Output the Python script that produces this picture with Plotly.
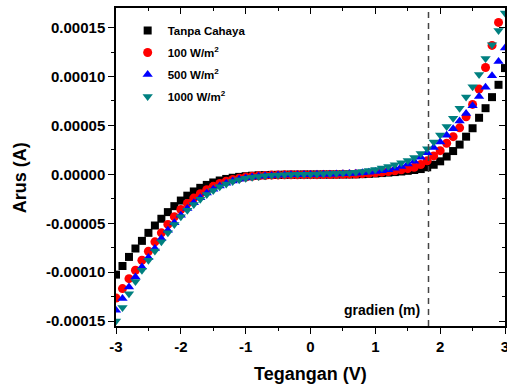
import plotly.graph_objects as go

voltage = [-3.0, -2.9, -2.8, -2.7, -2.6, -2.5, -2.4, -2.3, -2.2, -2.1,
           -2.0, -1.9, -1.8, -1.7, -1.6, -1.5, -1.4, -1.3, -1.2, -1.1,
           -1.0, -0.9, -0.8, -0.7, -0.6, -0.5, -0.4, -0.3, -0.2, -0.1,
           0.0, 0.1, 0.2, 0.3, 0.4, 0.5, 0.6, 0.7, 0.8, 0.9,
           1.0, 1.1, 1.2, 1.3, 1.4, 1.5, 1.6, 1.7, 1.8, 1.9,
           2.0, 2.1, 2.2, 2.3, 2.4, 2.5, 2.6, 2.7, 2.8, 2.9, 3.0]

# currents in ampere
i_dark = [-102.5e-6, -93.7e-6, -84.4e-6, -75.8e-6, -68.0e-6, -59.8e-6, -52.3e-6, -45.4e-6, -38.6e-6, -32.5e-6,
          -26.8e-6, -21.8e-6, -17.5e-6, -13.8e-6, -10.8e-6, -8.3e-6, -6.3e-6, -4.7e-6, -3.5e-6, -2.6e-6,
          -1.9e-6, -1.4e-6, -1.0e-6, -0.8e-6, -0.6e-6, -0.5e-6, -0.4e-6, -0.3e-6, -0.3e-6, -0.2e-6,
          -0.2e-6, -0.2e-6, -0.2e-6, -0.2e-6, -0.2e-6, -0.1e-6, -0.1e-6, 0.0, 0.2e-6, 0.5e-6,
          0.9e-6, 1.3e-6, 1.8e-6, 2.3e-6, 2.9e-6, 3.6e-6, 4.4e-6, 5.4e-6, 7.2e-6, 9.8e-6,
          13.3e-6, 18.2e-6, 23.8e-6, 30.4e-6, 38.5e-6, 47.1e-6, 57.8e-6, 67.6e-6, 78.9e-6, 91.5e-6, 108.6e-6]

i_100 = [-126.4e-6, -116.8e-6, -106.6e-6, -98.0e-6, -87.8e-6, -78.6e-6, -69.0e-6, -59.8e-6, -51.2e-6, -43.4e-6,
         -35.9e-6, -29.7e-6, -24.3e-6, -19.8e-6, -15.8e-6, -12.3e-6, -9.4e-6, -7.1e-6, -5.3e-6, -3.9e-6,
         -2.8e-6, -2.0e-6, -1.5e-6, -1.1e-6, -0.8e-6, -0.6e-6, -0.5e-6, -0.4e-6, -0.4e-6, -0.3e-6,
         -0.3e-6, -0.3e-6, -0.2e-6, -0.2e-6, -0.1e-6, 0.0, 0.2e-6, 0.4e-6, 0.7e-6, 1.1e-6,
         1.6e-6, 2.2e-6, 2.9e-6, 3.7e-6, 4.7e-6, 5.8e-6, 7.2e-6, 10.0e-6, 13.8e-6, 18.8e-6,
         24.2e-6, 31.8e-6, 38.5e-6, 47.5e-6, 58.8e-6, 71.5e-6, 87.1e-6, 109.2e-6, 131.8e-6, 155.3e-6, 180.0e-6]

i_500 = [-139.0e-6, -127.0e-6, -115.2e-6, -104.9e-6, -94.7e-6, -85.0e-6, -75.8e-6, -65.6e-6, -57.1e-6, -49.6e-6,
         -41.7e-6, -34.8e-6, -29.1e-6, -23.8e-6, -19.2e-6, -15.2e-6, -11.8e-6, -9.0e-6, -6.8e-6, -5.0e-6,
         -3.7e-6, -2.7e-6, -2.0e-6, -1.5e-6, -1.1e-6, -0.8e-6, -0.6e-6, -0.4e-6, -0.3e-6, -0.2e-6,
         -0.1e-6, 0.0, 0.1e-6, 0.2e-6, 0.4e-6, 0.6e-6, 0.9e-6, 1.2e-6, 1.6e-6, 2.1e-6,
         2.8e-6, 3.7e-6, 4.8e-6, 6.2e-6, 8.0e-6, 10.5e-6, 13.5e-6, 17.5e-6, 22.0e-6, 27.5e-6,
         33.0e-6, 40.0e-6, 46.5e-6, 54.5e-6, 62.2e-6, 70.0e-6, 79.5e-6, 89.1e-6, 100.7e-6, 115.4e-6, 129.0e-6]

i_1000 = [-150.0e-6, -136.0e-6, -122.0e-6, -109.5e-6, -98.0e-6, -87.8e-6, -78.3e-6, -69.0e-6, -59.8e-6, -51.2e-6,
          -43.4e-6, -36.6e-6, -30.7e-6, -25.4e-6, -20.6e-6, -16.4e-6, -12.8e-6, -9.8e-6, -7.4e-6, -5.5e-6,
          -4.0e-6, -2.9e-6, -2.1e-6, -1.5e-6, -1.0e-6, -0.7e-6, -0.4e-6, -0.2e-6, 0.0, 0.1e-6,
          0.2e-6, 0.4e-6, 0.6e-6, 0.8e-6, 1.0e-6, 1.3e-6, 1.7e-6, 2.2e-6, 2.9e-6, 3.8e-6,
          5.0e-6, 6.4e-6, 8.0e-6, 9.8e-6, 11.8e-6, 14.2e-6, 17.2e-6, 21.2e-6, 26.2e-6, 33.0e-6,
          40.3e-6, 48.8e-6, 57.4e-6, 67.6e-6, 79.0e-6, 89.5e-6, 102.0e-6, 118.5e-6, 132.5e-6, 147.0e-6, 165.0e-6]

series_names = ["Tanpa Cahaya", "100 W/m<sup>2</sup>", "500 W/m<sup>2</sup>", "1000 W/m<sup>2</sup>"]
series_values = [i_dark, i_100, i_500, i_1000]
series_colors = ["#000000", "#ff0000", "#0000ff", "#008080"]
series_symbols = ["square", "circle", "triangle-up", "triangle-down"]
series_sizes = [8, 9, 9, 9]

y_tickvals = [-0.00015, -0.00010, -0.00005, 0.0, 0.00005, 0.00010, 0.00015]
y_ticktext = ["-0.00015", "-0.00010", "-0.00005", "0.00000", "0.00005", "0.00010", "0.00015"]
x_tickvals = [-3, -2, -1, 0, 1, 2, 3]
x_ticktext = ["-3", "-2", "-1", "0", "1", "2", "3"]

gradient_x = 1.82
gradient_label = "gradien (m)"
x_title = "Tegangan (V)"
y_title = "Arus (A)"

FONT = "Arial, Liberation Sans, sans-serif"
X_RANGE = [-3, 3]
Y_RANGE = [-0.000155, 0.00017]

fig = go.Figure()
for name, vals, col, sym, sz in zip(series_names, series_values, series_colors, series_symbols, series_sizes):
    fig.add_trace(go.Scatter(
        x=voltage, y=vals, mode="markers", name="<b>" + name + "</b>",
        marker=dict(symbol=sym, color=col, size=sz, line=dict(width=0)),
        legendgroup=name,
    ))

# invisible trace for mirrored top/right axes
fig.add_trace(go.Scatter(x=[None], y=[None], xaxis="x2", yaxis="y2",
                         showlegend=False, hoverinfo="skip"))

fig.add_shape(type="line", x0=gradient_x, x1=gradient_x, xref="x", y0=0, y1=1, yref="paper",
              line=dict(color="#444444", width=1.5, dash="6px,5px"))

fig.add_annotation(x=gradient_x, y=-0.000139, xref="x", yref="y", text="<b>" + gradient_label + "</b>",
                   showarrow=False, xanchor="right", yanchor="middle", xshift=-7,
                   font=dict(family=FONT, size=14, color="#000000"))

fig.add_annotation(x=0.5, y=-0.151, xref="paper", yref="paper", text="<b>" + x_title + "</b>",
                   showarrow=False, xanchor="center", yanchor="middle",
                   font=dict(family=FONT, size=18, color="#000000"))
fig.add_annotation(x=-0.245, y=0.467, xref="paper", yref="paper", text="<b>" + y_title + "</b>",
                   showarrow=False, xanchor="center", yanchor="middle", textangle=-90,
                   font=dict(family=FONT, size=18, color="#000000"))

axis_common = dict(showgrid=False, zeroline=False, showline=True, linecolor="#000000", linewidth=1.5,
                   tickcolor="#000000", tickwidth=1.2, automargin=False)

fig.update_layout(
    width=507, height=387,
    margin=dict(l=116, r=2, t=8, b=61, pad=0, autoexpand=False),
    paper_bgcolor="#ffffff", plot_bgcolor="#ffffff",
    font=dict(family=FONT, color="#000000"),
    showlegend=True,
    legend=dict(x=0.03, y=0.975, xanchor="left", yanchor="top", bgcolor="rgba(0,0,0,0)",
                font=dict(family=FONT, size=11.5, color="#000000"), tracegroupgap=3,
                itemsizing="trace"),
    xaxis=dict(range=X_RANGE, tickvals=x_tickvals, ticktext=["<b>%s</b>" % t for t in x_ticktext],
               ticks="outside", ticklen=6, tickfont=dict(family=FONT, size=15),
               ticklabeloverflow="allow",
               minor=dict(ticks="outside", ticklen=3, tick0=-3, dtick=0.5, tickcolor="#000000"),
               **axis_common),
    yaxis=dict(range=Y_RANGE, tickvals=y_tickvals, ticktext=["<b>%s</b>" % t for t in y_ticktext],
               ticks="outside", ticklen=6, tickfont=dict(family=FONT, size=15),
               ticklabeloverflow="allow",
               minor=dict(ticks="outside", ticklen=3, tick0=0, dtick=0.000025, tickcolor="#000000"),
               **axis_common),
    xaxis2=dict(range=X_RANGE, overlaying="x", side="top", anchor="y2", tickvals=x_tickvals,
                showticklabels=False, ticks="inside", ticklen=6,
                minor=dict(ticks="inside", ticklen=3, tick0=-3, dtick=0.5, tickcolor="#000000"),
                **axis_common),
    yaxis2=dict(range=Y_RANGE, overlaying="y", side="right", anchor="x2", tickvals=y_tickvals,
                showticklabels=False, ticks="inside", ticklen=6,
                minor=dict(ticks="inside", ticklen=3, tick0=0, dtick=0.000025, tickcolor="#000000"),
                **axis_common),
)

fig.write_html("out.html")
